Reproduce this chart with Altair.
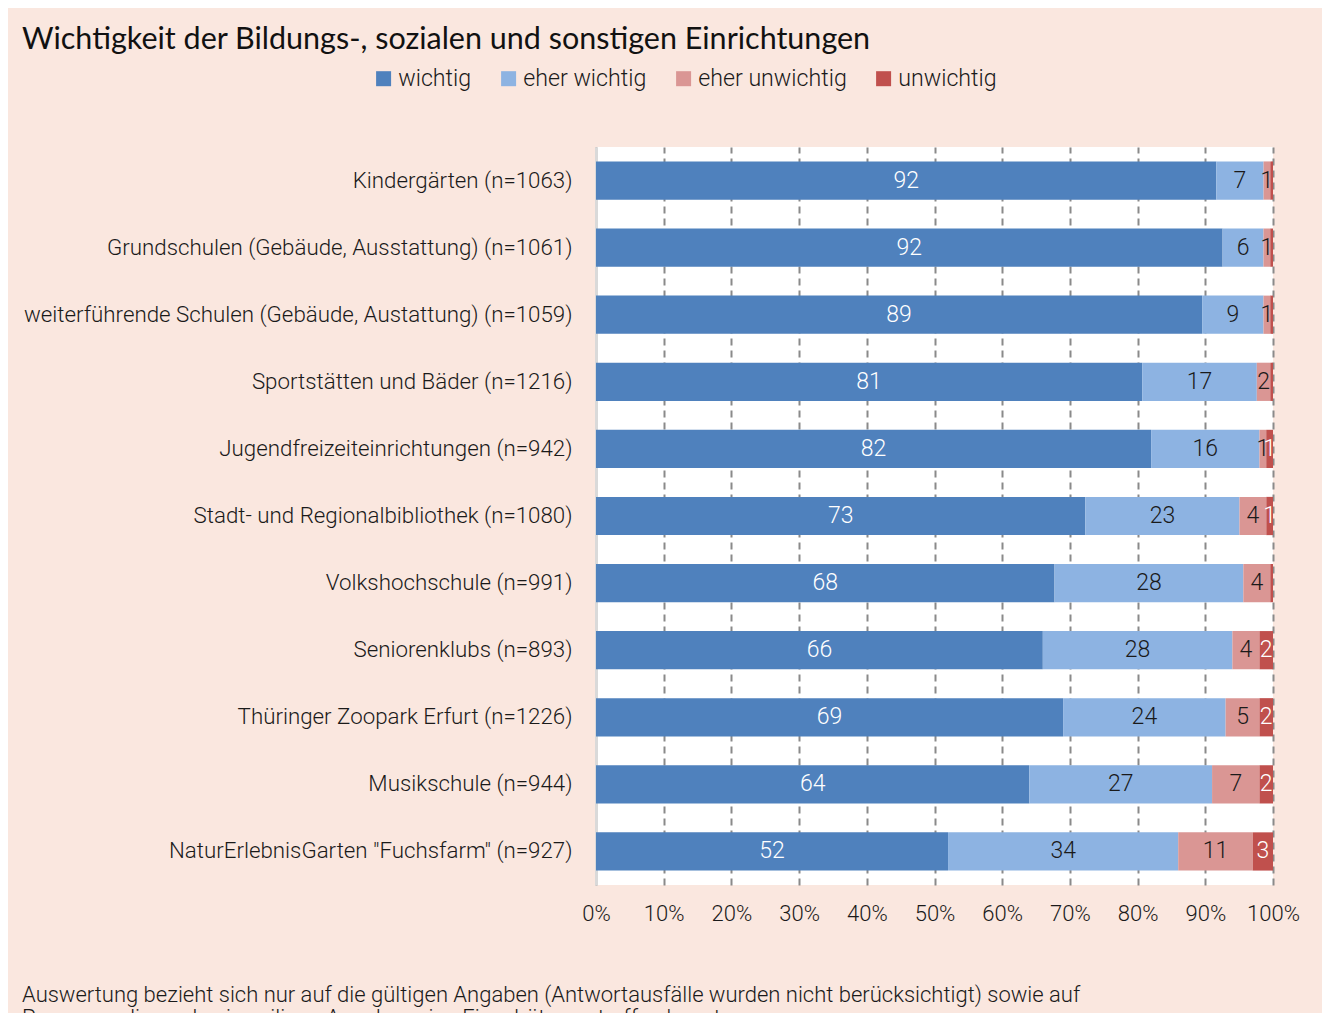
import altair as alt
import pandas as pd

categories = [
    "Kindergärten (n=1063)",
    "Grundschulen (Gebäude, Ausstattung) (n=1061)",
    "weiterführende Schulen (Gebäude, Austattung) (n=1059)",
    "Sportstätten und Bäder (n=1216)",
    "Jugendfreizeiteinrichtungen (n=942)",
    "Stadt- und Regionalbibliothek (n=1080)",
    "Volkshochschule (n=991)",
    "Seniorenklubs (n=893)",
    "Thüringer Zoopark Erfurt (n=1226)",
    "Musikschule (n=944)",
    "NaturErlebnisGarten \"Fuchsfarm\" (n=927)",
]
series = ["wichtig", "eher wichtig", "eher unwichtig", "unwichtig"]
wichtig = [92, 92, 89, 81, 82, 73, 68, 66, 69, 64, 52]
eher_wichtig = [7, 6, 9, 17, 16, 23, 28, 28, 24, 27, 34]
eher_unwichtig = [1, 1, 1, 2, 1, 4, 4, 4, 5, 7, 11]
unwichtig = [0.4, 0.4, 0.4, 0.4, 1, 1, 0.4, 2, 2, 2, 3]
colors = ["#4F81BD", "#8DB3E2", "#DA9694", "#C0504D"]
label_colors = ["#FFFFFF", "#1A1A1A", "#1A1A1A", "#FFFFFF"]
footer = [
    "Auswertung bezieht sich nur auf die gültigen Angaben (Antwortausfälle wurden nicht berücksichtigt) sowie auf",
    "Personen, die zu den jeweiligen Angaben eine Einschätzung treffen konnten.",
]

rows = []
for s_i, (name, vals) in enumerate(zip(series, [wichtig, eher_wichtig, eher_unwichtig, unwichtig])):
    for c, v in zip(categories, vals):
        rows.append({"cat": c, "series": name, "idx": s_i, "value": v,
                     "label": str(int(round(v))) if v >= 0.5 else "",
                     "lc": label_colors[s_i]})
df = pd.DataFrame(rows)

FONT = "Roboto"
FW = 300

base = alt.Chart(df).transform_stack(
    stack="value", groupby=["cat"], as_=["v0", "v1"], offset="normalize",
    sort=[alt.SortField("idx", order="ascending")],
).transform_calculate(mid="(datum.v0 + datum.v1) / 2")

yenc = alt.Y("cat:N", sort=categories, title=None,
             scale=alt.Scale(paddingInner=0.43, paddingOuter=0.215),
             axis=alt.Axis(labelFont=FONT, labelFontSize=22.3, labelFontWeight=FW,
                           labelColor="#1A1A1A",
                           labelPadding=24, ticks=False, domainColor="#D9D9D9",
                           domainWidth=3, labelLimit=700))

bars = base.mark_bar().encode(
    x=alt.X("v0:Q", scale=alt.Scale(domain=[0, 1], nice=False),
            axis=alt.Axis(format="%", values=[i / 10 for i in range(11)], title=None,
                          labelFont=FONT, labelFontSize=22, labelFontWeight=FW,
                          labelColor="#1A1A1A", labelOverlap=False, labelFlush=False,
                          labelPadding=18, ticks=False, domain=False,
                          grid=True, gridColor="#8A8A8A", gridDash=[7, 5], gridWidth=2)),
    x2="v1:Q",
    y=yenc,
    color=alt.Color("series:N", sort=series,
                    scale=alt.Scale(domain=series, range=colors),
                    legend=alt.Legend(title=None, orient="none", direction="horizontal",
                                      legendX=-224, legendY=-80,
                                      symbolType="square", symbolSize=225,
                                      symbolStrokeWidth=0, labelFont=FONT,
                                      labelFontWeight=FW, labelLimit=400,
                                      labelFontSize=23.2, labelColor="#1A1A1A",
                                      columnPadding=25, labelOffset=3)),
    order=alt.Order("idx:Q"),
)

labels = base.mark_text(font=FONT, fontSize=23, fontWeight=FW, clip=True,
                        baseline="middle").encode(
    x="mid:Q",
    y=alt.Y("cat:N", sort=categories),
    text="label:N",
    color=alt.Color("lc:N", scale=None),
)

foot = alt.Chart(pd.DataFrame({"t": [footer]})).mark_text(
    align="left", baseline="alphabetic", font=FONT, fontSize=22, fontWeight=FW,
    color="#1A1A1A", lineHeight=23,
).encode(x=alt.value(22 - 596), y=alt.value(1002 - 147), text="t")

chart = alt.layer(bars, labels, foot).properties(
    width=677, height=738,
    padding={"left": 588, "top": 139, "right": 49, "bottom": 128},
    autosize=alt.AutoSizeParams(type="none"),
    background="#FAE7DF",
    title=alt.TitleParams(
        "Wichtigkeit der Bildungs-, sozialen und sonstigen Einrichtungen",
        anchor="start", frame="group", dx=-574, font="Lato", fontSize=30.5,
        fontWeight="normal", color="#111111", offset=12,
    ),
).configure_view(fill="white", stroke=None)

chart.save("out.html", embed_options={"renderer": "svg", "actions": False})
